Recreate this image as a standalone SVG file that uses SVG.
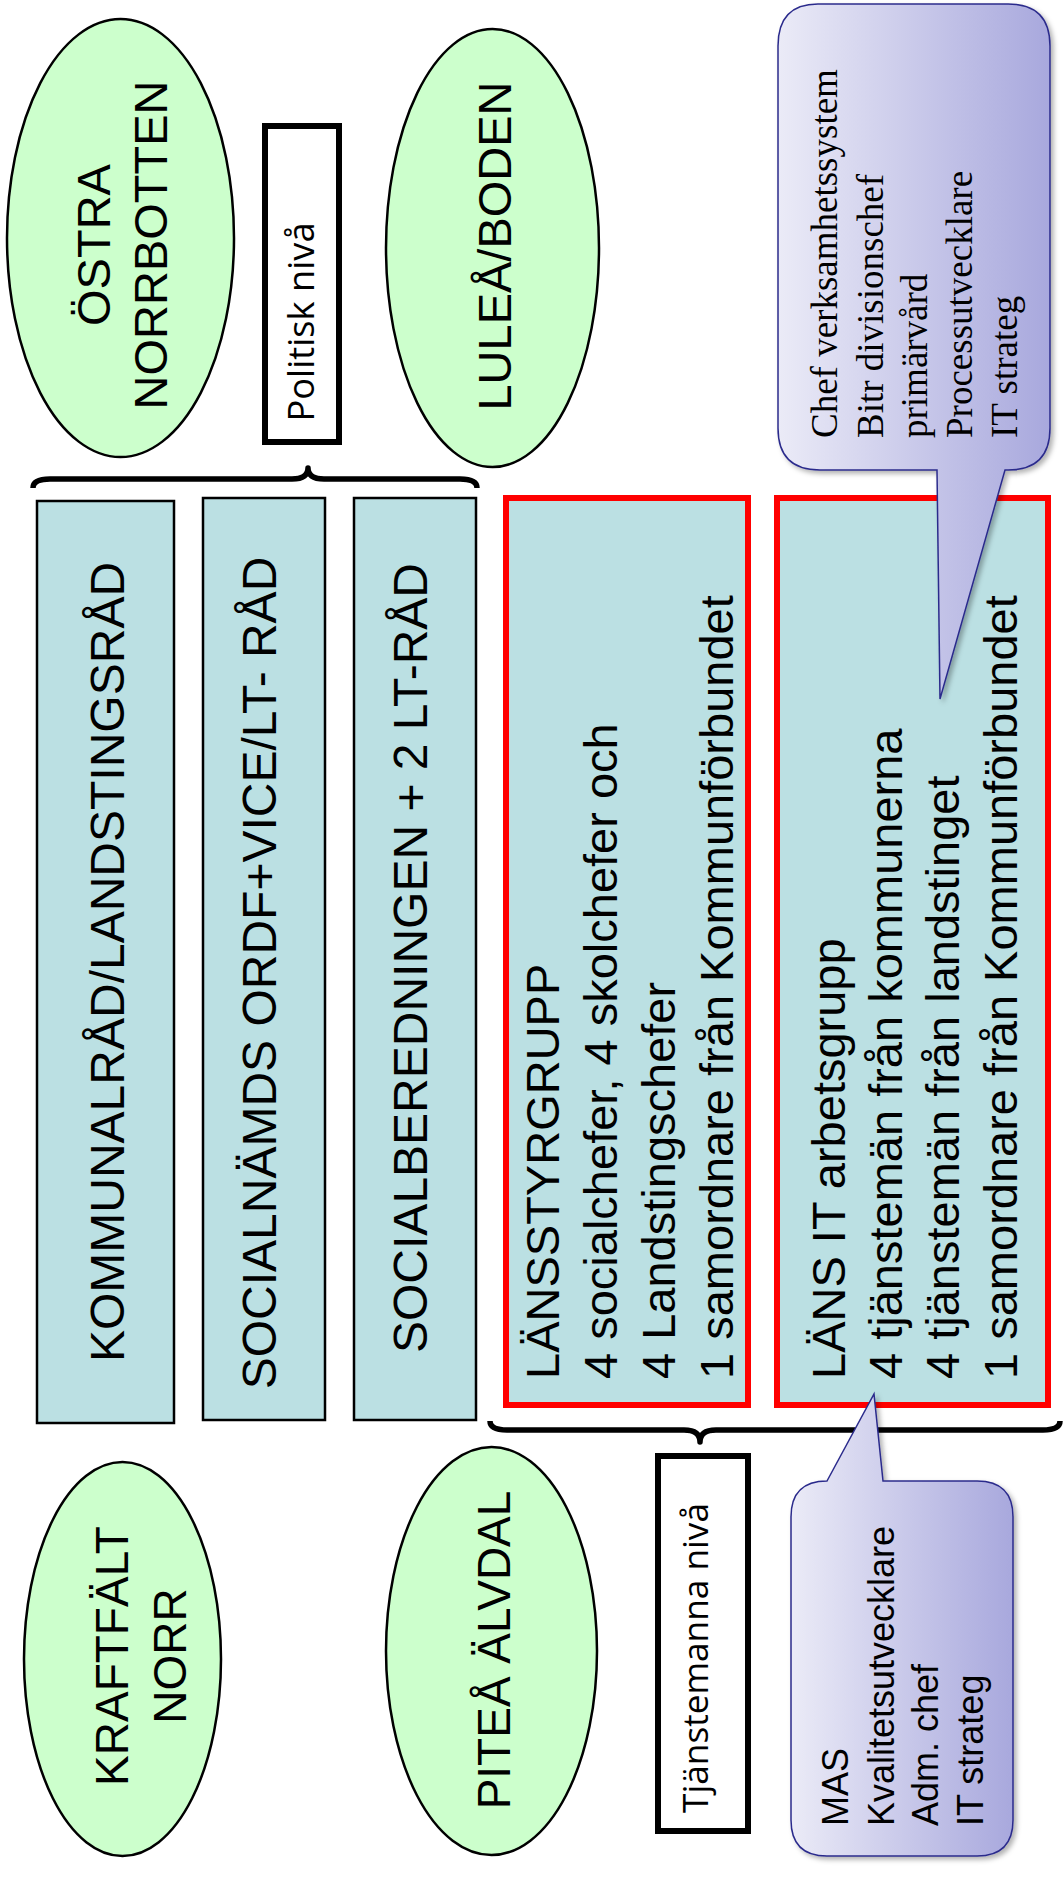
<svg xmlns="http://www.w3.org/2000/svg" width="1063" height="1883" viewBox="0 0 1063 1883">
<defs>
<linearGradient id="bub" x1="0" y1="0" x2="1" y2="0">
<stop offset="0" stop-color="#EBEBF7"/>
<stop offset="1" stop-color="#A8A8DD"/>
</linearGradient>
<filter id="sh" x="-10%" y="-10%" width="130%" height="130%">
<feDropShadow dx="3" dy="3" stdDeviation="2.5" flood-color="#000" flood-opacity="0.3"/>
</filter>
</defs>
<style>
.ell{fill:#CCFFCC;stroke:#000;stroke-width:2.5}
.blue{fill:#BBE0E3;stroke:#000;stroke-width:2.5}
.red{fill:#BBE0E3;stroke:#FF0000;stroke-width:6}
.lbl{fill:#fff;stroke:#000;stroke-width:6}
.bubble{fill:url(#bub);stroke:#2B2B8C;stroke-width:1.5;filter:url(#sh)}
.brace{fill:none;stroke:#000;stroke-width:5.5;stroke-linejoin:round}
.t{font-family:"Liberation Sans",Arial,sans-serif;fill:#000}
.o{font-family:"Open Sans","Noto Sans",sans-serif;fill:#000}
.s{font-family:"Liberation Serif","Times New Roman",serif;fill:#000}
</style>
<g id="ostra-norrbotten">
<ellipse class="ell" cx="120.5" cy="238" rx="113.5" ry="219"/>
<text class="t" font-size="47" text-anchor="middle" transform="translate(110,245) rotate(-90)"><tspan x="0" y="0">ÖSTRA</tspan><tspan x="0" y="57">NORRBOTTEN</tspan></text>
</g>
<g id="politisk-niva">
<rect class="lbl" x="265" y="126" width="74" height="316"/>
<text class="o" font-size="36" text-anchor="middle" textLength="199" lengthAdjust="spacingAndGlyphs" transform="translate(314,322) rotate(-90)">Politisk nivå</text>
</g>
<g id="lulea-boden">
<ellipse class="ell" cx="492.5" cy="248" rx="106.5" ry="219"/>
<text class="t" font-size="47" text-anchor="middle" transform="translate(511,246) rotate(-90)">LULEÅ/BODEN</text>
</g>
<g id="kraftfalt-norr">
<ellipse class="ell" cx="122.5" cy="1659" rx="98.5" ry="197"/>
<text class="t" font-size="46" text-anchor="middle" transform="translate(128,1656) rotate(-90)"><tspan x="0" y="0">KRAFTFÄLT</tspan><tspan x="0" y="58">NORR</tspan></text>
</g>
<g id="pitea-alvdal">
<ellipse class="ell" cx="491.5" cy="1651" rx="105.5" ry="204"/>
<text class="t" font-size="46" text-anchor="middle" transform="translate(510,1650) rotate(-90)">PITEÅ ÄLVDAL</text>
</g>
<g id="tjanstemanna-niva">
<rect class="lbl" x="658" y="1456" width="90" height="375"/>
<text class="o" font-size="35" text-anchor="middle" textLength="310" lengthAdjust="spacingAndGlyphs" transform="translate(708,1658) rotate(-90)">Tjänstemanna nivå</text>
</g>
<g id="kommunalrad">
<rect class="blue" x="37" y="501" width="137" height="922"/>
<text class="t" font-size="48" text-anchor="middle" transform="translate(124,962) rotate(-90)">KOMMUNALRÅD/LANDSTINGSRÅD</text>
</g>
<g id="socialnamnds">
<rect class="blue" x="203" y="498" width="122" height="922"/>
<text class="t" font-size="48" text-anchor="middle" transform="translate(276,973) rotate(-90)">SOCIALNÄMDS ORDF+VICE/LT- RÅD</text>
</g>
<g id="socialberedningen">
<rect class="blue" x="354" y="498" width="122" height="922"/>
<text class="t" font-size="48" text-anchor="middle" transform="translate(427,958) rotate(-90)">SOCIALBEREDNINGEN + 2 LT-RÅD</text>
</g>
<g id="lansstyrgrupp">
<rect class="red" x="506" y="498" width="242" height="907"/>
<text class="t" font-size="47" transform="translate(559,1379) rotate(-90)"><tspan x="0" y="0">LÄNSSTYRGRUPP</tspan><tspan x="0" y="58">4 socialchefer, 4 skolchefer och</tspan><tspan x="0" y="116">4 Landstingschefer</tspan><tspan x="0" y="174">1 samordnare från Kommunförbundet</tspan></text>
</g>
<g id="lans-it-arbetsgrupp">
<rect class="red" x="777" y="498" width="271" height="907"/>
<text class="t" font-size="47" transform="translate(845,1379) rotate(-90)"><tspan x="0" y="0">LÄNS IT arbetsgrupp</tspan><tspan x="0" y="57">4 tjänstemän från kommunerna</tspan><tspan x="0" y="114">4 tjänstemän från landstinget</tspan><tspan x="0" y="172">1 samordnare från Kommunförbundet</tspan></text>
</g>
<g id="connectors">
<path class="brace" d="M33,488 Q33,479 50,479 L292,479 Q308,479 308,468 Q308,479 324,479 L460,479 Q477,479 477,488"/>
<path class="brace" d="M490,1421 Q490,1430 507,1430 L684,1430 Q700,1430 700,1442 Q700,1430 716,1430 L1043,1430 Q1060,1430 1060,1421"/>
</g>
<g id="callout-top">
<path class="bubble" d="M818,4 L1008,4 Q1050,4 1050,46 L1050,428 Q1050,470 1008,470 L1005,470 L940,699 L937,470 L820,470 Q778,470 778,428 L778,46 Q778,4 818,4 Z"/>
<text class="s" font-size="37" transform="translate(837,438) rotate(-90)"><tspan x="0" y="0">Chef verksamhetssystem</tspan><tspan x="0" y="46">Bitr divisionschef</tspan><tspan x="0" y="90">primärvård</tspan><tspan x="0" y="135">Processutvecklare</tspan><tspan x="0" y="180">IT strateg</tspan></text>
</g>
<g id="callout-bottom">
<path class="bubble" d="M827,1481 L874,1394 L883,1481 L977,1481 Q1013,1481 1013,1517 L1013,1820 Q1013,1856 977,1856 L827,1856 Q791,1856 791,1820 L791,1517 Q791,1481 827,1481 Z"/>
<text class="t" font-size="36" transform="translate(848,1826) rotate(-90)"><tspan x="0" y="0">MAS</tspan><tspan x="0" y="46">Kvalitetsutvecklare</tspan><tspan x="0" y="90">Adm. chef</tspan><tspan x="0" y="135">IT strateg</tspan></text>
</g>
</svg>
